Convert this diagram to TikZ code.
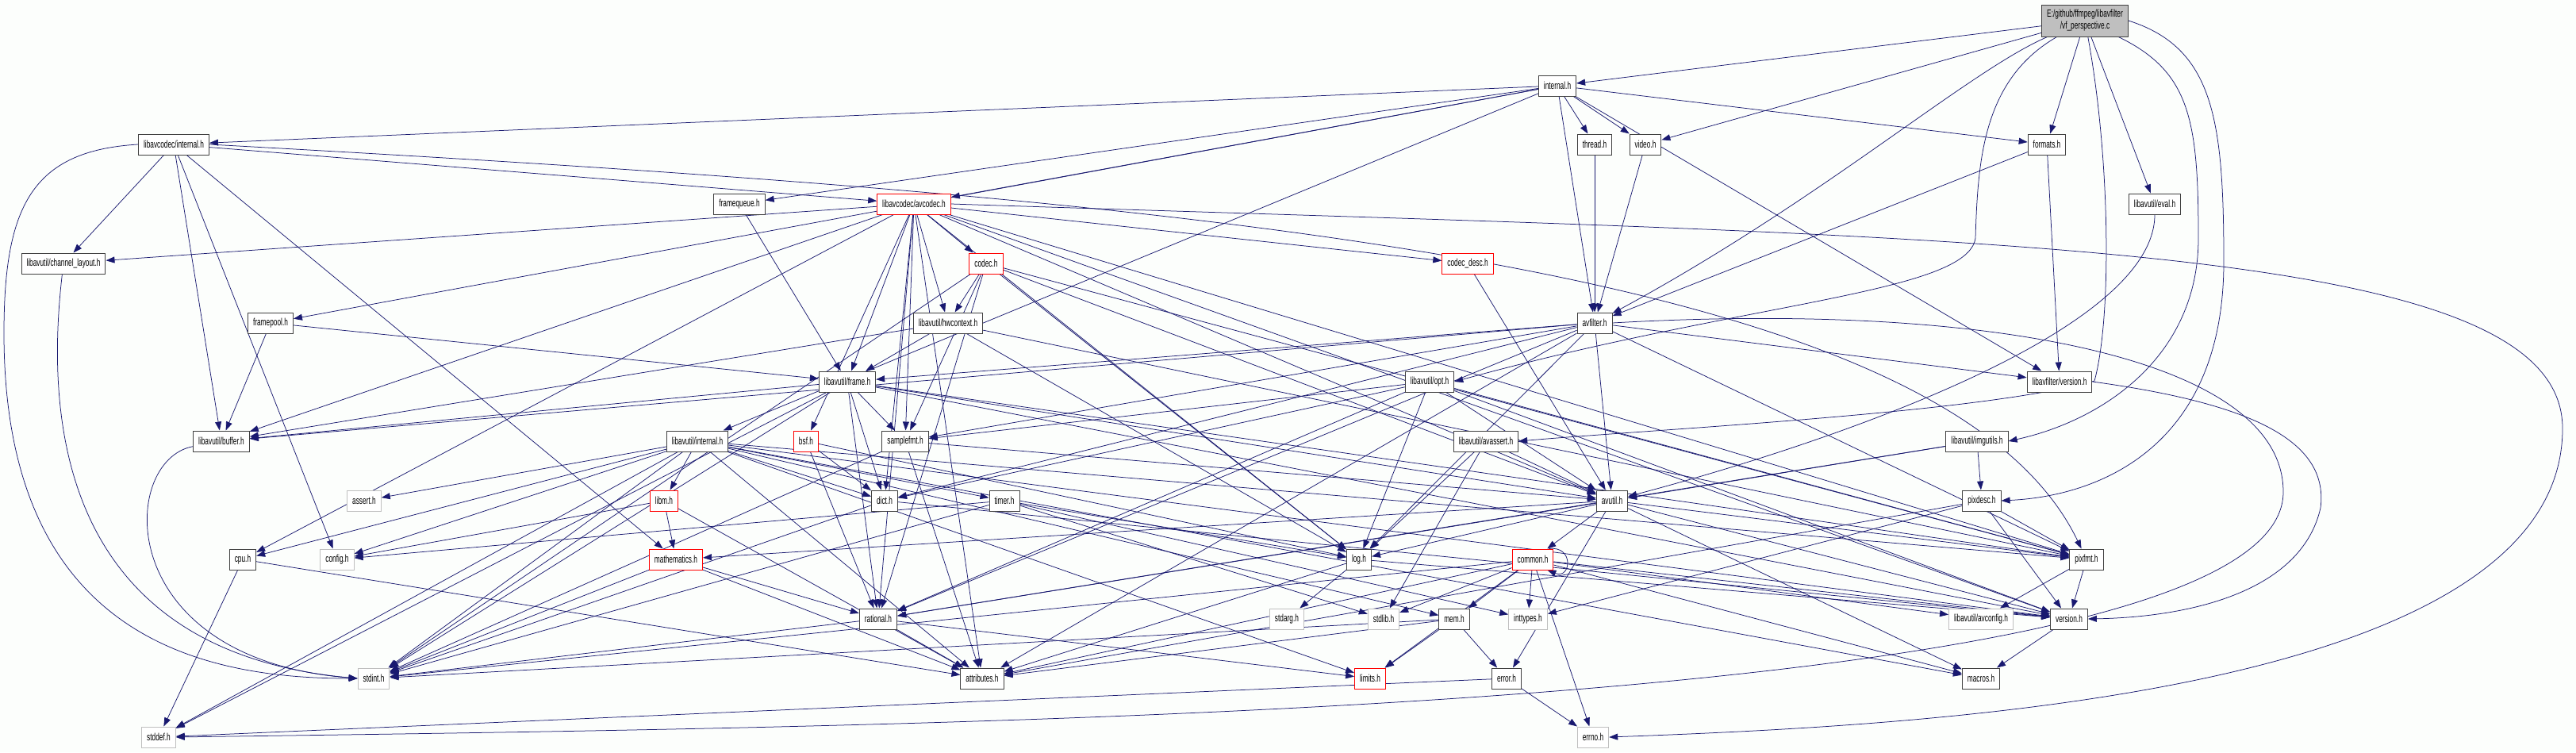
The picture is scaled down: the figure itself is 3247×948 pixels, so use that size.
\documentclass[tikz,border=0pt]{standalone}
\usepackage{fontspec}
\setmainfont{Liberation Sans}[FakeStretch=0.64]
\usetikzlibrary{arrows.meta,backgrounds}
\definecolor{edgeblue}{RGB}{25,25,112}
\definecolor{boxline}{RGB}{64,64,64}
\definecolor{sysline}{RGB}{191,191,191}
\definecolor{rootfill}{RGB}{191,191,191}
\definecolor{pagebg}{RGB}{252,254,252}
\begin{document}
\begin{tikzpicture}[x=1pt,y=-1pt,
  hdr/.style={draw=boxline,line width=1pt,fill=white,inner xsep=6.5pt,inner ysep=0pt,minimum height=26pt,font=\fontsize{13}{15}\selectfont},
  redhdr/.style={hdr,draw=red},
  syshdr/.style={hdr,draw=sysline},
  dep/.style={draw=edgeblue,line width=0.75pt,-{Triangle[length=11pt,width=8pt]}}]
\path[use as bounding box] (0,0) rectangle (3247,948);
% include graph of vf_perspective.c
\node[hdr,fill=rootfill,align=center,minimum height=40pt] (root) at (2628,26) {E:/github/ffmpeg/libavfilter\\/vf\_perspective.c};
\node[hdr] (intl) at (1963,108) {internal.h};
\node[hdr] (thread) at (2010,182) {thread.h};
\node[hdr] (video) at (2074,182) {video.h};
\node[hdr] (formats) at (2580,182) {formats.h};
\node[hdr] (lcint) at (219,182) {libavcodec/internal.h};
\node[hdr] (fq) at (932,257) {framequeue.h};
\node[redhdr] (avcodec) at (1152,257) {libavcodec/avcodec.h};
\node[hdr] (eval) at (2716,257) {libavutil/eval.h};
\node[hdr] (chl) at (80,332) {libavutil/channel\_layout.h};
\node[redhdr] (codec) at (1243,332) {codec.h};
\node[redhdr] (codecdesc) at (1850,332) {codec\_desc.h};
\node[hdr] (fpool) at (341,407) {framepool.h};
\node[hdr] (hwctx) at (1195,407) {libavutil/hwcontext.h};
\node[hdr] (avfilter) at (2010,407) {avfilter.h};
\node[hdr] (frame) at (1068,481) {libavutil/frame.h};
\node[hdr] (opt) at (1802,481) {libavutil/opt.h};
\node[hdr] (lfver) at (2596,481) {libavfilter/version.h};
\node[hdr] (buffer) at (279,556) {libavutil/buffer.h};
\node[hdr] (luint) at (879,556) {libavutil/internal.h};
\node[redhdr] (bsf) at (1016,556) {bsf.h};
\node[hdr] (sfmt) at (1141,556) {samplefmt.h};
\node[hdr] (avassert) at (1873,556) {libavutil/avassert.h};
\node[hdr] (imgutils) at (2492,556) {libavutil/imgutils.h};
\node[syshdr] (assert) at (459,631) {assert.h};
\node[redhdr] (libm) at (837,631) {libm.h};
\node[hdr] (dict) at (1115,631) {dict.h};
\node[hdr] (timer) at (1266,631) {timer.h};
\node[hdr] (avutil) at (2032,631) {avutil.h};
\node[hdr] (pixdesc) at (2498,631) {pixdesc.h};
\node[hdr] (cpu) at (306,705) {cpu.h};
\node[syshdr] (config) at (425,705) {config.h};
\node[redhdr] (mathh) at (852,705) {mathematics.h};
\node[hdr] (logh) at (1713,705) {log.h};
\node[redhdr] (common) at (1932,705) {common.h};
\node[hdr] (pixfmt) at (2630,705) {pixfmt.h};
\node[hdr] (rational) at (1107,780) {rational.h};
\node[syshdr] (stdarg) at (1622,780) {stdarg.h};
\node[syshdr] (stdlib) at (1744,780) {stdlib.h};
\node[hdr] (mem) at (1833,780) {mem.h};
\node[syshdr] (inttypes) at (1926,780) {inttypes.h};
\node[syshdr] (avconfig) at (2497,780) {libavutil/avconfig.h};
\node[hdr] (version) at (2608,780) {version.h};
\node[syshdr] (stdint) at (471,855) {stdint.h};
\node[hdr] (attributes) at (1238,855) {attributes.h};
\node[redhdr] (limits) at (1727,855) {limits.h};
\node[hdr] (error) at (1899,855) {error.h};
\node[hdr] (macros) at (2497,855) {macros.h};
\node[syshdr] (stddef) at (200,929) {stddef.h};
\node[syshdr] (errno) at (2008,929) {errno.h};
\begin{scope}[on background layer]
\fill[pagebg] (0,0) rectangle (3247,948);
% straight dependencies, grouped by the including header
\foreach \t in {intl,formats,video,eval} \draw[dep] (root) -- (\t);
\foreach \t in {lcint,avcodec,fq,fpool,luint,avfilter,thread,video,formats,lfver} \draw[dep] (intl) -- (\t);
\foreach \s in {thread,video,formats} \draw[dep] (\s) -- (avfilter);
\draw[dep] (formats) -- (lfver);
\draw[dep] (eval) .. controls (2716,420) and (2300,560) .. (avutil);
\foreach \t in {chl,buffer,avcodec,config,mathh} \draw[dep] (lcint) -- (\t);
\draw[dep] (lcint.east) .. controls (1500,250) and (2450,330) .. (pixfmt);
\draw[dep] (lcint.west) .. controls (40,190) and (5,260) .. (5,420) .. controls (5,800) and (250,855) .. (stdint.west);
\draw[dep] (chl) .. controls (58,520) and (70,820) .. (stdint.west);
\draw[dep] (fq) -- (frame);
\foreach \t in {buffer,frame} \draw[dep] (fpool) -- (\t);
\foreach \t in {chl,buffer,cpu,frame,hwctx,codec,codecdesc,bsf,sfmt,rational,attributes,avutil,logh,dict,pixfmt,version} \draw[dep] (avcodec) -- (\t);
\draw[dep] (avcodec.east) .. controls (2500,300) and (3230,300) .. (3230,540) .. controls (3230,880) and (2400,915) .. (errno.east);
\foreach \t in {stdint,rational,hwctx,sfmt,logh,avutil,pixfmt} \draw[dep] (codec) -- (\t);
\draw[dep] (codecdesc) -- (avutil);
\foreach \t in {buffer,frame,logh,pixfmt} \draw[dep] (hwctx) -- (\t);
\foreach \t in {attributes,avutil,buffer,dict,frame,logh,sfmt,pixfmt,rational,lfver} \draw[dep] (avfilter) -- (\t);
\draw[dep] (avfilter.east) .. controls (2500,380) and (2878,450) .. (2878,620) .. controls (2878,900) and (1200,915) .. (stddef.east);
\foreach \t in {stddef,stdint,avutil,buffer,dict,rational,sfmt,pixfmt,version} \draw[dep] (frame) -- (\t);
\foreach \t in {rational,avutil,dict,logh,pixfmt,sfmt,version} \draw[dep] (opt) -- (\t);
\draw[dep] (lfver.east) .. controls (2850,510) and (2935,560) .. (2925,640) .. controls (2900,750) and (2750,778) .. (version.east);
\draw[dep] (buffer) .. controls (150,580) and (140,830) .. (stdint.west);
\foreach \t in {limits,stdint,stddef,assert,config,attributes,timer,cpu,dict,macros,mem,pixfmt,version,libm} \draw[dep] (luint) -- (\t);
\foreach \t in {dict,rational,logh} \draw[dep] (bsf) -- (\t);
\foreach \t in {stdint,avutil,attributes} \draw[dep] (sfmt) -- (\t);
\foreach \t in {stdlib,avutil,logh} \draw[dep] (avassert) -- (\t);
\foreach \t in {avutil,pixdesc,rational} \draw[dep] (imgutils) -- (\t);
\foreach \t in {inttypes,attributes,pixfmt,version} \draw[dep] (pixdesc) -- (\t);
\foreach \t in {config,mathh,attributes} \draw[dep] (libm) -- (\t);
\foreach \t in {stdint,version} \draw[dep] (dict) -- (\t);
\foreach \t in {config,stdint,logh,inttypes,stdlib} \draw[dep] (timer) -- (\t);
\foreach \t in {common,error,rational,version,macros,mathh,logh,pixfmt} \draw[dep] (avutil) -- (\t);
\foreach \t in {stddef,attributes} \draw[dep] (cpu) -- (\t);
\foreach \t in {stdint,rational,attributes} \draw[dep] (mathh) -- (\t);
\foreach \t in {stdarg,attributes,version} \draw[dep] (logh) -- (\t);
\foreach \t in {stdint,stdlib,mem,limits,inttypes,errno,avconfig,version,macros,attributes} \draw[dep] (common) -- (\t);
\draw[dep] ([xshift=-6pt]common.north east) .. controls +(32,-4) and +(30,12) .. ([xshift=-8pt]common.south east);
\foreach \t in {limits,stdint,attributes,error} \draw[dep] (mem) -- (\t);
\foreach \t in {errno,stddef} \draw[dep] (error) -- (\t);
\foreach \t in {avconfig,version} \draw[dep] (pixfmt) -- (\t);
\draw[dep] (version) -- (macros);
\foreach \t in {stdint,limits,attributes} \draw[dep] (rational) -- (\t);
% long routes from the source file
\draw[dep] (root) .. controls (2480,90) and (2300,250) .. (avfilter);
\draw[dep] (root) .. controls (2500,100) and (2493,200) .. (2490,300) .. controls (2480,370) and (2200,380) .. (opt.east);
\draw[dep] (root) .. controls (2660,200) and (2662,400) .. (2640,480) .. controls (2500,520) and (2100,540) .. (avassert.east);
\draw[dep] (root) .. controls (2760,90) and (2771,150) .. (2771,300) .. controls (2771,450) and (2650,530) .. (imgutils.east);
\draw[dep] (root.east) .. controls (2790,60) and (2803,150) .. (2803,330) .. controls (2803,560) and (2650,625) .. (pixdesc.east);
\end{scope}
\end{tikzpicture}
\end{document}
